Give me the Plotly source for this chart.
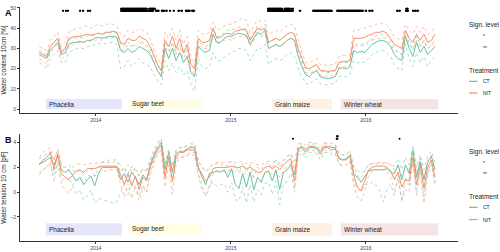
import pandas as pd
import plotly.graph_objects as go

# ---------------- data ----------------
start_date = "2013-08-01"
step_days = 10
n_pts = 108
dates = pd.date_range(start_date, periods=n_pts, freq=f"{step_days}D")

# Panel A: water content 10 cm [%]
A_ct_mean = [27, 26, 25, 29, 31, 33, 27, 28, 32, 33,
             33, 33.5, 33, 34, 34, 35, 35.5, 35, 35.5, 36,
             36, 35.5, 29, 28, 30, 28, 29, 31, 30, 29,
             27, 23, 19, 16, 30, 25, 30, 24, 28, 23,
             26, 18, 16, 31, 29, 28, 29, 37, 33, 33,
             35, 36, 36, 37, 37.5, 37, 36.5, 32, 35, 38,
             37, 39, 30, 31, 32, 31, 32, 34, 35, 34,
             26, 21, 17, 16, 18, 19, 16, 15.5, 15, 15.5,
             16, 20, 20.5, 20, 21, 29, 28, 28.5, 28, 30,
             32, 33, 34, 34, 33, 31, 27, 25, 24, 36,
             30, 26, 33, 28, 31, 27, 29, 31]
A_nit_mean = [28, 27, 26, 31, 33, 35, 28, 30, 35, 35.5,
              36, 36, 36.5, 37, 36.5, 37, 37.5, 37, 38, 38,
              38.5, 38, 33, 32, 35, 34, 34, 36, 35, 34,
              31, 26, 22, 19, 34, 31, 36, 30, 35, 28,
              32, 22, 20, 35, 33, 33, 34, 40, 35, 35.5,
              37, 37.5, 37, 38.5, 39, 39.5, 39, 34, 37, 40,
              39, 40, 33, 34, 35, 34, 35.5, 37, 38, 37,
              30, 25, 20.5, 20, 21, 22, 19, 19, 18.5, 19,
              19, 23, 23.5, 23.5, 24, 35, 35, 35, 35.5, 36.5,
              37, 38, 38, 38.5, 37.5, 35, 32, 31, 30, 39,
              35, 33, 37, 34, 37, 33, 34, 37]
A_nit_hi = [31, 30, 29, 34, 36, 38, 31, 33, 38, 39,
            40, 40, 41, 41, 40, 41, 42, 41, 42, 42,
            42, 41, 37, 36, 39, 38, 38, 40, 39, 38,
            35, 29, 25, 22, 38, 35, 40, 34, 39, 32,
            36, 25, 23, 39, 37, 37, 38, 43, 39, 40,
            41, 42, 42, 43, 44, 45, 44, 38, 41, 44,
            43, 44, 37, 38, 39, 38, 40, 41, 42, 41,
            34, 28, 23, 23, 24, 25, 22, 22, 21.5, 22,
            22, 26, 26.5, 26.5, 27, 39, 39, 39.5, 40, 41,
            41, 42, 42, 42.5, 41.5, 39, 36, 35, 34, 42,
            39, 37, 41, 38, 41, 37, 38, 41]
A_nit_lo = [25, 24, 22, 28, 30, 32, 25, 26, 31, 32,
            33, 33, 33, 34, 33.5, 34, 34.5, 34, 35, 35,
            35.5, 35, 30, 29, 32, 31, 31, 33, 32, 31,
            28, 23, 19, 16.5, 31, 28, 32, 27, 31, 25,
            29, 19, 17, 32, 30, 30, 31, 37, 32, 33,
            34, 34.5, 34, 35.5, 36, 36, 36, 31, 34, 37,
            36, 37, 30, 31, 32, 31, 32.5, 34, 35, 34,
            27, 22, 18, 17.5, 18.5, 19.5, 16.5, 16.5, 16, 16.5,
            16.5, 20.5, 21, 21, 21.5, 32, 32, 32, 32.5, 33.5,
            34, 35, 35, 35.5, 34.5, 32, 29, 28, 27, 36,
            32, 30, 34, 31, 34, 30, 31, 34]
A_ct_hi = [29, 28, 27, 31, 33, 35, 29, 30, 34, 35,
           35, 35.5, 35, 36, 36, 37, 37.5, 37, 37.5, 38,
           38, 37.5, 32, 31, 33, 31, 32, 34, 33, 32,
           30, 26, 22, 19, 33, 29, 33, 28, 32, 27,
           30, 22, 20, 34, 32, 31, 32, 40, 36, 36,
           38, 39, 39, 40, 40.5, 40, 39.5, 35, 38, 41,
           40, 42, 33, 34, 35, 34, 35, 37, 38, 37,
           29, 24, 20, 19, 21, 22, 19, 18.5, 18, 18.5,
           19, 23, 23.5, 23, 24, 32, 31, 31.5, 31, 33,
           35, 36, 37, 37, 36, 34, 30, 28, 27, 39,
           33, 29, 36, 31, 34, 30, 32, 34]
A_ct_lo = [23, 22, 20, 25, 27, 29, 23, 23, 28, 29,
           30, 30, 30, 31, 31, 32, 32.5, 32, 32.5, 33,
           33, 32, 20, 21, 24, 21, 23, 25, 23, 22,
           21, 17, 14, 12, 24, 19, 23, 18, 21, 17,
           19, 12, 9, 25, 21, 20, 21, 28, 24, 24,
           26, 27, 28, 29, 30, 30, 29, 24, 27, 30,
           30, 32, 22, 24, 25, 24, 25, 27, 28, 26,
           20, 16, 13, 12, 14, 15, 12.5, 12, 12, 12.5,
           13, 16, 16.5, 16, 17, 24, 23, 23.5, 23, 25,
           27, 28, 29, 29, 28, 26, 22, 20, 19, 32,
           25, 21, 28, 23, 26, 21, 24, 26]

# Panel B: water tension 10 cm [pF]
B_ct_mean = [2.3, 2.4, 2.6, 2.8, 2.2, 2.9, 1.8, 1.6, 1.8, 1.3,
             0.9, 1.2, 0.6, 1.0, 1.3, 0.5, 1.5, 2.0, 2.0, 2.0,
             2.0, 2.0, 1.0, 1.5, 0.8, 1.6, 1.2, 0.6, 1.4, 1.0,
             2.2, 3.0, 3.6, 4.0, 1.8, 3.2, 1.6, 3.1, 3.3, 3.3,
             3.5, 3.6, 3.6, 2.0, 1.2, 0.6, 1.5, 1.6, 1.7, 1.6,
             1.8, 1.2, 1.9, 0.6, 0.3, 1.5, 0.4, 1.6, 0.2, 1.2,
             0.8, 1.6, 1.7, 0.9, 1.8, 0.2, 1.6, 1.8, 2.2, 1.4,
             3.4, 3.6, 3.2, 3.6, 3.6, 3.5, 3.1, 3.6, 3.6, 3.4,
             3.5, 2.8, 2.6, 2.7, 3.0, 1.5, 1.2, 0.8, 1.3, 1.7,
             1.8, 1.8, 1.8, 1.8, 1.9, 1.6, 1.5, 2.2, 1.0, 2.2,
             1.5, 3.4, 1.2, 2.5, 1.0, 2.4, 2.9, 1.8]
B_nit_mean = [2.2, 2.6, 2.8, 3.2, 1.8, 3.1, 1.5, 1.2, 1.0, 1.4,
              1.7, 1.8, 1.6, 1.9, 1.9, 1.9, 2.0, 2.1, 2.1, 2.1,
              2.1, 2.1, 1.4, 0.6, 1.5, 0.5, 1.3, 0.2, 1.2, 0.9,
              2.0, 2.8, 3.4, 3.8, 1.2, 2.8, 0.9, 2.8, 3.2, 3.2,
              3.4, 3.4, 3.4, 2.0, 1.5, 0.9, 1.2, 1.9, 2.0, 2.0,
              2.0, 2.0, 2.1, 2.0, 2.0, 2.1, 1.9, 2.0, 1.8, 1.6,
              1.6, 2.0, 2.1, 1.9, 2.1, 1.8, 2.2, 2.5, 2.7, 0.9,
              3.5, 3.7, 3.4, 3.7, 3.7, 3.6, 3.3, 3.7, 3.7, 3.6,
              3.6, 2.7, 2.6, 2.6, 2.9, 1.4, 0.4, 0.1, 0.9, 1.8,
              2.0, 2.1, 2.1, 2.1, 2.0, 1.7, 1.0, 1.6, 0.4, 1.0,
              0.9, 2.8, 0.6, 2.2, 0.3, 2.0, 2.6, 1.2]
B_nit_hi = [2.8, 3.2, 3.4, 3.6, 2.5, 3.5, 2.2, 1.9, 1.8, 2.0,
            2.2, 2.3, 2.2, 2.3, 2.3, 2.3, 2.4, 2.4, 2.4, 2.4,
            2.4, 2.4, 2.2, 1.6, 2.2, 1.6, 2.0, 1.3, 1.9, 1.8,
            2.5, 3.2, 3.8, 4.2, 2.0, 3.3, 1.8, 3.3, 3.6, 3.6,
            3.7, 3.7, 3.8, 2.4, 2.1, 1.7, 1.9, 2.3, 2.4, 2.4,
            2.4, 2.4, 2.5, 2.4, 2.4, 2.5, 2.3, 2.4, 2.3, 2.2,
            2.2, 2.4, 2.5, 2.4, 2.5, 2.3, 2.6, 2.9, 3.1, 1.8,
            3.9, 4.0, 3.8, 4.0, 4.0, 3.9, 3.7, 4.0, 4.0, 3.9,
            3.9, 3.1, 3.0, 3.0, 3.3, 2.1, 1.3, 1.1, 1.7, 2.2,
            2.3, 2.4, 2.4, 2.4, 2.4, 2.2, 1.8, 2.2, 1.3, 1.8,
            1.8, 3.2, 1.5, 2.7, 1.2, 2.5, 3.0, 1.8]
B_nit_lo = [1.4, 1.8, 2.0, 2.5, 0.8, 2.4, 0.6, 0.2, -0.1, 0.5,
            1.0, 1.1, 0.8, 1.3, 1.4, 1.3, 1.5, 1.7, 1.7, 1.8,
            1.8, 1.8, 0.6, -0.4, 0.7, -0.5, 0.5, -0.7, 0.4, 0.0,
            1.4, 2.4, 3.0, 3.4, 0.4, 2.2, -0.2, 2.2, 2.8, 2.8,
            3.0, 3.0, 3.0, 1.4, 0.6, -0.3, 0.3, 1.5, 1.7, 1.7,
            1.7, 1.7, 1.8, 1.6, 1.6, 1.7, 1.4, 1.6, 1.2, 0.8,
            0.8, 1.6, 1.7, 1.4, 1.7, 1.2, 1.7, 2.1, 2.3, 0.0,
            3.1, 3.4, 3.0, 3.4, 3.4, 3.3, 2.9, 3.4, 3.4, 3.2,
            3.2, 2.3, 2.2, 2.2, 2.5, 0.6, -0.4, -0.7, 0.1, 1.3,
            1.7, 1.8, 1.8, 1.8, 1.6, 1.2, 0.2, 1.0, -0.6, 0.2,
            0.0, 2.4, -0.3, 1.6, -0.9, 1.4, 2.2, 0.6]
B_ct_hi = [2.7, 2.9, 3.1, 3.2, 2.6, 3.3, 2.2, 2.0, 2.2, 1.8,
           1.6, 1.8, 1.4, 1.7, 1.9, 1.3, 2.0, 2.4, 2.5, 2.6,
           2.6, 2.6, 1.6, 2.0, 1.5, 2.1, 1.8, 1.3, 1.9, 1.6,
           2.6, 3.4, 4.0, 4.3, 2.3, 3.5, 2.1, 3.4, 3.6, 3.6,
           3.8, 3.9, 3.9, 2.5, 2.0, 1.6, 2.0, 2.2, 2.3, 2.2,
           2.3, 2.1, 2.5, 2.0, 1.6, 2.3, 1.6, 2.2, 1.2, 2.0,
           1.8, 2.2, 2.4, 1.9, 2.6, 2.0, 2.5, 2.8, 3.1, 2.5,
           3.7, 3.9, 3.5, 3.9, 3.9, 3.8, 3.4, 3.9, 3.9, 3.7,
           3.8, 3.2, 3.0, 3.1, 3.3, 2.0, 1.8, 1.5, 1.8, 2.2,
           2.3, 2.3, 2.3, 2.3, 2.4, 2.1, 2.1, 2.7, 1.8, 2.8,
           2.2, 3.8, 2.0, 3.0, 1.8, 2.9, 3.3, 2.4]
B_ct_lo = [1.6, 1.8, 2.0, 2.2, 1.4, 2.4, 1.1, 0.9, 1.2, 0.5,
           -0.2, 0.2, -0.6, -0.3, 0.2, -0.9, -0.5, -0.6, -0.7, -0.8,
           -0.9, -0.8, 0.0, 0.6, -0.2, 0.8, 0.2, -0.3, 0.6, 0.0,
           1.6, 2.5, 3.1, 3.6, 1.0, 2.7, 0.8, 2.6, 2.9, 2.9,
           3.0, 3.2, 3.2, 1.4, 0.2, -0.3, 0.6, 0.8, 0.5, 0.6,
           0.7, 0.0, 0.8, -0.6, -0.7, 0.4, -0.9, 0.6, -0.8, 0.2,
           -0.2, 0.7, 0.8, -0.2, 0.9, -1.0, 0.6, 0.9, 1.5, 0.3,
           2.9, 3.2, 2.7, 3.2, 3.2, 3.1, 2.6, 3.2, 3.2, 3.0,
           3.1, 2.3, 2.1, 2.2, 2.5, 0.8, 0.4, 0.0, 0.6, 0.6,
           0.8, 0.6, 0.2, -0.8, 0.2, 0.6, -0.3, 1.4, -0.8, 1.2,
           0.6, 2.8, 0.2, 1.8, -0.4, 1.6, 2.4, 0.8]

# crop periods
crop_names = ["Phacelia", "Sugar beet", "Grain maize", "Winter wheat"]
crop_start = ["2013-08-19", "2014-03-31", "2015-04-22", "2015-10-25"]
crop_end = ["2014-03-12", "2014-10-15", "2015-10-01", "2016-07-15"]
crop_colors = ["#e4e4fa", "#fffde6", "#fcf1e2", "#f4e4e4"]

# significance periods (start, end)
A_sig1 = [("2013-10-04", "2013-10-05"), ("2013-10-12", "2013-10-13"), ("2013-10-17", "2013-10-18"),
          ("2013-11-19", "2013-11-20"), ("2013-11-27", "2013-11-28"), ("2013-12-10", "2013-12-11"),
          ("2013-12-16", "2013-12-17"), ("2014-03-10", "2014-05-19"), ("2014-05-22", "2014-06-05"),
          ("2014-06-12", "2014-06-20"), ("2014-06-28", "2014-07-05"), ("2014-07-10", "2014-07-12"),
          ("2014-07-20", "2014-07-21"), ("2014-07-30", "2014-07-31"), ("2014-08-12", "2014-08-14"),
          ("2014-08-20", "2014-08-22"), ("2014-09-01", "2014-09-12"), ("2014-09-18", "2014-09-24"),
          ("2015-04-11", "2015-06-18"), ("2015-07-06", "2015-07-08"), ("2015-08-11", "2015-10-01"),
          ("2015-10-15", "2015-12-24"), ("2015-12-31", "2016-01-02"), ("2016-01-10", "2016-01-12"),
          ("2016-01-17", "2016-01-19"), ("2016-03-25", "2016-03-27"), ("2016-03-31", "2016-04-02"),
          ("2016-04-18", "2016-04-24"), ("2016-05-07", "2016-05-09"), ("2016-05-13", "2016-05-15"),
          ("2016-05-19", "2016-05-21")]
A_sig2 = [("2014-03-10", "2014-05-19"), ("2014-05-25", "2014-06-10"), ("2015-04-11", "2015-05-20"),
          ("2015-05-26", "2015-06-10"), ("2015-06-15", "2015-06-18"), ("2016-04-19", "2016-04-23")]
B_sig1 = [("2015-06-18", "2015-06-18"), ("2015-10-14", "2015-10-16"), ("2016-04-01", "2016-04-01")]
B_sig2 = [("2015-10-15", "2015-10-17")]

year_ticks = ["2014-01-01", "2015-01-01", "2016-01-01"]
year_labels = ["2014", "2015", "2016"]


def expand(periods):
    out = []
    for s, e in periods:
        out.extend(pd.date_range(s, e, freq="D"))
    return out


CT_COL = "#66c2a5"
NIT_COL = "#fc8d62"
FONT = "Liberation Sans"

fig = go.Figure()

# ---------------- crop bars ----------------
panels = [("x", "y", 0, 5), ("x2", "y2", -3.5, -2.5)]
shapes = []
annotations = []
for xr, yr, y0, y1 in panels:
    for name, s, e, c in zip(crop_names, crop_start, crop_end, crop_colors):
        shapes.append(dict(type="rect", xref=xr, yref=yr, x0=s, x1=e, y0=y0, y1=y1,
                           fillcolor=c, line=dict(width=0), layer="below"))
        annotations.append(dict(xref=xr, yref=yr, x=s, y=(y0 + y1) / 2, text=name,
                                showarrow=False, xanchor="left", yanchor="middle", xshift=1,
                                font=dict(family=FONT, size=6.5, color="#222")))


def add_series(xa, ya, lo, hi, mean, col, name):
    for arr in (lo, hi):
        fig.add_trace(go.Scatter(x=dates, y=arr, mode="lines", xaxis=xa, yaxis=ya,
                                 line=dict(color=col, width=0.8, dash="dot"), opacity=0.7,
                                 showlegend=False, hoverinfo="skip"))
    fig.add_trace(go.Scatter(x=dates, y=mean, mode="lines", xaxis=xa, yaxis=ya,
                             line=dict(color=col, width=1.0), name=name, showlegend=False))


add_series("x", "y", A_ct_lo, A_ct_hi, A_ct_mean, CT_COL, "CT")
add_series("x", "y", A_nit_lo, A_nit_hi, A_nit_mean, NIT_COL, "NIT")
add_series("x2", "y2", B_ct_lo, B_ct_hi, B_ct_mean, CT_COL, "CT")
add_series("x2", "y2", B_nit_lo, B_nit_hi, B_nit_mean, NIT_COL, "NIT")

# significance markers
for xa, ya, per, yv in [("x", "y", A_sig1, 48.6), ("x", "y", A_sig2, 49.6),
                        ("x2", "y2", B_sig1, 4.3), ("x2", "y2", B_sig2, 4.5)]:
    d = expand(per)
    fig.add_trace(go.Scatter(x=d, y=[yv] * len(d), mode="markers", xaxis=xa, yaxis=ya,
                             marker=dict(color="black", size=2, line=dict(width=0)),
                             showlegend=False, hoverinfo="skip"))

# ---------------- axes ----------------
W, H = 500, 252
xdom = [20 / W, 458 / W]
xrange = ["2013-06-10", "2016-09-06"]
axis_common = dict(showgrid=False, zeroline=False, showline=True, linecolor="#333",
                   linewidth=0.8, ticks="outside", ticklen=2, tickcolor="#333",
                   tickfont=dict(family=FONT, size=5, color="#444"))
fig.update_layout(
    xaxis=dict(domain=xdom, range=xrange, anchor="y", tickvals=year_ticks, ticktext=year_labels,
               **axis_common),
    yaxis=dict(domain=[1 - 112 / H, 1 - 5 / H], range=[-1.96, 50.5], anchor="x",
               tickvals=[0, 10, 20, 30, 40, 50],
               title=dict(text="Water content 10cm [%]", standoff=3,
                          font=dict(family=FONT, size=6.5, color="#222")),
               **axis_common),
    xaxis2=dict(domain=xdom, range=xrange, anchor="y2", tickvals=year_ticks, ticktext=year_labels,
                **axis_common),
    yaxis2=dict(domain=[1 - 240.7 / H, 1 - 133.3 / H], range=[-3.92, 4.67], anchor="x2",
                tickvals=[-2, 0, 2, 4],
                title=dict(text="Water tension 10 cm [pF]", standoff=3,
                           font=dict(family=FONT, size=6.5, color="#222")),
                **axis_common),
)

# ---------------- panel letters & legends ----------------
def px(x, y):
    return x / W, 1 - y / H


for letter, (lx, ly) in [("A", (8, 11)), ("B", (8, 139))]:
    X, Y = px(lx, ly)
    annotations.append(dict(xref="paper", yref="paper", x=X, y=Y, text=f"<b>{letter}</b>",
                            showarrow=False, xanchor="center", yanchor="middle",
                            font=dict(family=FONT, size=9, color="black")))

legend_rows = [(23.5, 34, 46, 69, 80, 91.7), (151, 162, 173.5, 196, 207, 219.3)]
for t1, s1, s2, t2, c1, c2 in legend_rows:
    for txt, yy, xx, sz in [("Sign. level", t1, 467, 6.5), ("*", s1, 481, 5), ("**", s2, 481, 5),
                            ("Treatment", t2, 467, 6.5), ("CT", c1, 481, 5), ("NIT", c2, 481, 5)]:
        X, Y = px(xx, yy)
        annotations.append(dict(xref="paper", yref="paper", x=X, y=Y, text=txt, showarrow=False,
                                xanchor="left", yanchor="middle",
                                font=dict(family=FONT, size=sz, color="#222")))
    for yy, col in [(c1, CT_COL), (c2, NIT_COL)]:
        x0, y0 = px(469, yy)
        x1, _ = px(477.5, yy)
        shapes.append(dict(type="line", xref="paper", yref="paper", x0=x0, x1=x1, y0=y0, y1=y0,
                           line=dict(color=col, width=1.2)))

fig.update_layout(width=W, height=H, margin=dict(l=0, r=0, t=0, b=0),
                  paper_bgcolor="white", plot_bgcolor="white", showlegend=False,
                  shapes=shapes, annotations=annotations)

fig.write_html("out.html")
